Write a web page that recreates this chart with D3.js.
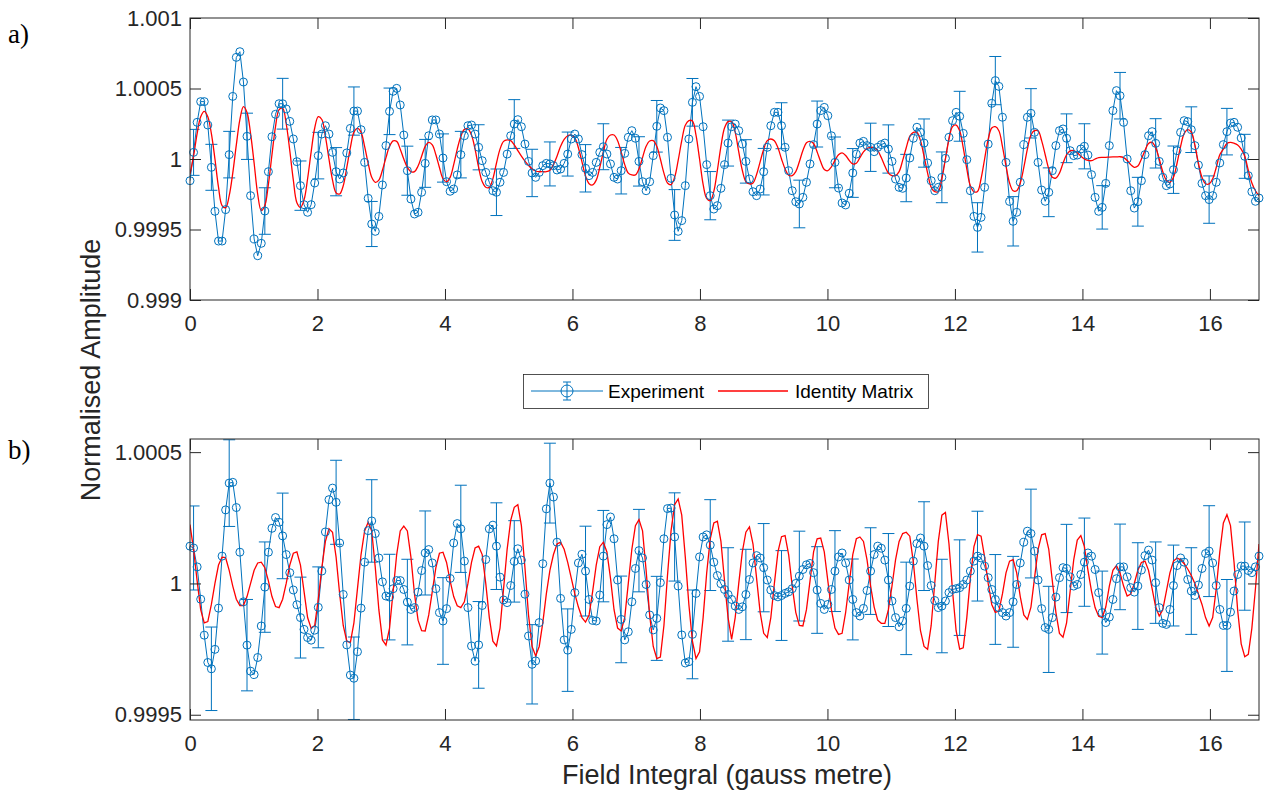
<!DOCTYPE html>
<meta charset="utf-8">

<head>
  <script src="https://d3js.org/d3.v7.min.js"></script>
  <style>
    body { margin: 0; background: #fff; }
  </style>
  <script>
    // all amplitude arrays are deviations from 1, in parts per million
    const xStep = 0.0559;
    const xMax = 16.77;

    const xTicks = [0, 2, 4, 6, 8, 10, 12, 14, 16];
    const yTicksA = [0.999, 0.9995, 1, 1.0005, 1.001];
    const yLabelsA = ["0.999", "0.9995", "1", "1.0005", "1.001"];
    const yTicksB = [0.9995, 1, 1.0005];
    const yLabelsB = ["0.9995", "1", "1.0005"];

    const seriesNames = ["Experiment", "Identity Matrix"];

    // panel a) experiment
    const expA = [
      -154, 47, 260, 407, 407, 241, -59, -371, -582, -582,
      -359, 31, 444, 721, 761, 546, 161, -260, -567, -686,
      -598, -369, -90, 158, 317, 392, 392, 355, 267, 142,
      -19, -189, -324, -378, -324, -170, 24, 177, 236, 177,
      47, -90, -142, -99, 43, 217, 340, 340, 208, -24,
      -279, -461, -513, -407, -184, 95, 338, 480, 501, 383,
      170, -83, -284, -390, -378, -236, -31, 165, 277, 277,
      177, 7, -161, -229, -213, -113, 31, 165, 236, 241,
      177, 83, -12, -95, -165, -225, -236, -165, -95, 35,
      165, 248, 279, 229, 106, -17, -99, -130, -95, -47,
      -31, -35, -47, -78, -71, -31, 35, 142, 177, 142,
      31, -66, -118, -95, -24, 47, 87, 35, -35, -130,
      -142, -83, 40, 154, 201, 147, -17, -161, -225, -161,
      24, 232, 362, 343, 154, -137, -397, -513, -437, -189,
      142, 402, 513, 444, 229, -40, -260, -355, -331, -208,
      -40, 113, 229, 248, 201, 106, -17, -142, -232, -260,
      -213, -90, 83, 236, 331, 331, 236, 83, -83, -225,
      -303, -319, -272, -165, -35, 102, 248, 343, 366, 307,
      165, -24, -206, -312, -326, -243, -99, 35, 113, 125,
      95, 83, 52, 83, 102, 113, 71, -17, -142, -201,
      -208, -135, 7, 147, 225, 189, 113, -28, -154, -225,
      -201, -130, 5, 154, 272, 331, 303, 182, -5, -225,
      -407, -485, -414, -201, 106, 395, 556, 515, 296, -24,
      -301, -442, -378, -165, 102, 296, 324, 189, -24, -220,
      -300, -236, -83, 95, 201, 213, 147, 59, 24, 28,
      71, 90, 28, -111, -272, -371, -343, -173, 95, 343,
      485, 449, 260, 0, -225, -348, -303, -154, 31, 165,
      194, 111, -17, -130, -189, -177, -76, 59, 189, 272,
      265, 208, 95, -43, -173, -260, -288, -260, -165, -28,
      102, 194, 255, 260, 225, 149, 19, -118, -232, -300,
      -277
    ];

    // panel a) error bar half-heights, on every fifth point from the second
    const errA = [
      163, 163, 165, 164, 165, 180, 175, 165, 171, 171,
      160, 165, 174, 170, 171, 165, 160, 165, 173, 168,
      156, 156, 168, 163, 165, 175, 183, 180, 169, 171,
      163, 154, 165, 163, 169, 163, 180, 173, 171, 171,
      168, 171, 180, 177, 175, 171, 175, 175, 173, 173,
      160, 154, 165, 173, 175, 168, 162, 168, 165, 156
    ];

    // panel a) identity matrix
    const redA = [
      -106, 20, 180, 300, 338, 300, 180, 0, -200, -330,
      -345, -260, -100, 100, 280, 371, 330, 180, -30, -250,
      -366, -330, -180, 30, 230, 350, 360, 250, 60, -150,
      -310, -343, -290, -140, 50, 220, 300, 280, 160, 0,
      -150, -240, -248, -190, -60, 80, 190, 217, 190, 90,
      -30, -130, -165, -150, -80, 10, 90, 128, 125, 70,
      0, -60, -90, -90, -50, 20, 90, 118, 100, 30,
      -60, -140, -161, -130, -40, 70, 160, 210, 213, 170,
      70, -60, -160, -200, -201, -140, -30, 70, 125, 135,
      130, 100, 60, 20, -15, -45, -70, -85, -90, -90,
      -90, -80, -40, 20, 90, 140, 165, 170, 150, 80,
      -20, -120, -175, -184, -150, -60, 50, 140, 170, 170,
      130, 50, -40, -100, -113, -113, -70, 10, 90, 128,
      130, 90, 0, -100, -170, -182, -130, -10, 130, 240,
      272, 270, 170, 0, -180, -280, -296, -230, -80, 90,
      220, 265, 265, 190, 50, -80, -160, -177, -170, -110,
      -20, 70, 130, 142, 130, 80, 0, -70, -115, -118,
      -90, -20, 60, 115, 125, 110, 50, -20, -75, -83,
      -55, -10, 30, 43, 25, -10, -35, -30, 10, 50,
      75, 83, 80, 60, 10, -50, -100, -118, -118, -90,
      -10, 80, 160, 189, 189, 130, 20, -100, -200, -232,
      -230, -140, 0, 140, 230, 241, 200, 80, -70, -190,
      -232, -230, -140, 0, 140, 220, 229, 200, 90, -50,
      -170, -225, -225, -170, -60, 70, 170, 201, 200, 130,
      30, -70, -130, -135, -100, -30, 30, 58, 59, 45,
      20, 0, -10, -12, 0, 10, 12, 12, 14, 15,
      15, 16, 10, -10, -40, -59, -50, 0, 60, 110,
      118, 80, 0, -90, -150, -165, -130, -30, 90, 180,
      208, 190, 100, -30, -130, -175, -177, -140, -60, 30,
      70, 110, 118, 112, 100, 70, 20, -80, -170, -225,
      -260
    ];

    // panel b) experiment
    const expB = [
      142, 135, 63, -60, -197, -301, -325, -251, -94, 104,
      280, 382, 385, 289, 119, -70, -235, -334, -347, -282,
      -162, -14, 119, 210, 251, 233, 181, 110, 41, -25,
      -81, -130, -175, -206, -216, -178, -91, 47, 196, 319,
      363, 309, 154, -42, -234, -349, -361, -260, -94, 81,
      201, 238, 190, 97, 6, -48, -52, -20, 11, 11,
      -23, -71, -99, -92, -33, 49, 116, 129, 78, -20,
      -111, -143, -96, 19, 154, 228, 208, 85, -92, -238,
      -296, -234, -84, 91, 208, 222, 142, 24, -63, -73,
      -8, 84, 132, 89, -41, -200, -308, -295, -149, 75,
      284, 382, 329, 157, -57, -215, -254, -175, -35, 78,
      111, 47, -61, -141, -143, -44, 104, 224, 253, 170,
      13, -137, -215, -184, -70, 57, 125, 97, -4, -120,
      -177, -133, 3, 170, 285, 287, 177, -10, -196, -303,
      -298, -194, -38, 101, 177, 185, 146, 81, 30, -1,
      -23, -42, -61, -86, -99, -89, -42, 15, 78, 106,
      97, 60, 13, -25, -46, -51, -46, -38, -32, -20,
      0, 28, 53, 71, 76, 41, -25, -76, -99, -80,
      -23, 47, 101, 116, 78, 13, -61, -111, -124, -95,
      -27, 47, 110, 142, 134, 89, 13, -67, -130, -165,
      -143, -95, -10, 85, 152, 173, 142, 68, -8, -65,
      -92, -86, -67, -35, -23, -20, -16, -4, 13, 47,
      85, 104, 97, 66, 22, -23, -61, -92, -111, -124,
      -111, -70, -4, 78, 157, 199, 190, 123, 13, -96,
      -168, -175, -130, -52, 22, 60, 57, 25, -10, -4,
      34, 81, 116, 104, 53, -35, -111, -149, -128, -61,
      18, 63, 63, 25, -16, -33, -10, 51, 106, 127,
      89, 3, -92, -152, -156, -99, -8, 68, 97, 81,
      15, -29, -46, -6, 57, 114, 123, 78, -8, -99,
      -160, -160, -109, -29, 34, 66, 66, 49, 41, 63,
      104
    ];

    // panel b) error bar half-heights, on every fifth point from the second
    const errB = [
      160, 159, 165, 174, 172, 163, 154, 154, 160, 157,
      157, 163, 163, 160, 165, 166, 165, 165, 155, 151,
      152, 157, 171, 174, 165, 157, 160, 168, 169, 173,
      178, 172, 168, 171, 171, 165, 154, 154, 165, 177,
      176, 169, 178, 182, 171, 171, 173, 169, 164, 168,
      168, 158, 163, 165, 155, 154, 165, 173, 175, 168
    ];

    // panel b) identity matrix
    const redB = [
      224, 130, 10, -100, -150, -145, -80, 0, 70, 100,
      98, 50, -10, -60, -84, -84, -50, 0, 50, 78,
      81, 60, 10, -50, -88, -92, -60, 0, 70, 115,
      120, 70, -30, -130, -171, -160, -60, 60, 160, 208,
      195, 100, -40, -160, -220, -225, -150, -20, 110, 200,
      233, 200, 60, -100, -215, -235, -170, -30, 110, 200,
      218, 200, 100, -40, -140, -180, -181, -120, -30, 60,
      115, 119, 80, 10, -50, -85, -92, -70, 0, 80,
      135, 142, 110, 0, -130, -220, -238, -170, -20, 130,
      240, 290, 300, 220, 60, -120, -240, -276, -240, -150,
      -40, 50, 110, 150, 157, 130, 80, 20, -40, -90,
      -130, -147, -120, -30, 70, 140, 157, 120, 20, -100,
      -170, -181, -130, 0, 130, 220, 243, 200, 50, -120,
      -240, -286, -280, -160, 30, 200, 300, 322, 260, 100,
      -80, -220, -286, -260, -130, 40, 170, 230, 237, 160,
      10, -130, -213, -130, 0, 120, 195, 215, 150, 20,
      -110, -190, -206, -130, 0, 120, 178, 182, 110, -10,
      -110, -160, -162, -100, 10, 120, 170, 173, 120, 10,
      -100, -170, -194, -190, -110, 0, 110, 170, 177, 160,
      90, -10, -90, -140, -152, -152, -100, -10, 90, 160,
      190, 195, 180, 80, -60, -180, -240, -251, -160, 0,
      160, 260, 270, 150, -30, -180, -250, -245, -130, 20,
      140, 186, 180, 100, 0, -80, -110, -105, -40, 40,
      85, 91, 40, -50, -120, -137, -90, 20, 130, 185,
      190, 130, 10, -110, -190, -205, -150, -30, 90, 165,
      182, 140, 50, -30, -92, -125, -130, -90, -10, 50,
      68, 40, -10, -48, -40, 0, 50, 80, 85, 50,
      -20, -90, -124, -100, -30, 40, 85, 97, 90, 75,
      55, 30, 0, -40, -80, -130, -162, -130, -20, 120,
      230, 262, 220, 80, -100, -230, -279, -270, -170, -20,
      150
    ];

    window.addEventListener("DOMContentLoaded", () => {
      let svg = d3.select("#svg");
      let blue = "#0072BD";
      let red = "#FF0000";
      let axisColor = "#262626";
      let sans = "'Liberation Sans', Arial, Helvetica, sans-serif";

      svg.append("rect").attr("width", 1264).attr("height", 794).attr("fill", "#fff");

      let x = d3.scaleLinear().domain([0, xMax]).range([190, 1259]);

      let panels = [
        {id: "a", exp: expA, red: redA, err: errA, domain: [0.999, 1.001], top: 18, bottom: 300,
         ticks: yTicksA, labels: yLabelsA, curve: d3.curveCatmullRom, tagY: 43},
        {id: "b", exp: expB, red: redB, err: errB, domain: [0.99948, 1.00055], top: 439, bottom: 720,
         ticks: yTicksB, labels: yLabelsB, curve: d3.curveLinear, tagY: 459}
      ];

      panels.forEach(drawPanel);

      // shared axis labels
      svg.append("text")
        .attr("transform", "translate(100,370) rotate(-90)")
        .attr("text-anchor", "middle")
        .attr("font-family", sans).attr("font-size", 27).attr("fill", axisColor)
        .text("Normalised Amplitude");

      svg.append("text")
        .attr("x", 727).attr("y", 784)
        .attr("text-anchor", "middle")
        .attr("font-family", sans).attr("font-size", 27).attr("fill", axisColor)
        .text("Field Integral (gauss metre)");

      // legend
      let lg = svg.append("g");
      lg.append("rect").attr("x", 523.5).attr("y", 374.5).attr("width", 405).attr("height", 34)
        .attr("fill", "#fff").attr("stroke", axisColor).attr("stroke-width", 0.8);
      lg.append("line").attr("x1", 531).attr("x2", 603).attr("y1", 391).attr("y2", 391)
        .attr("stroke", blue).attr("stroke-width", 1);
      lg.append("line").attr("x1", 567).attr("x2", 567).attr("y1", 382).attr("y2", 400)
        .attr("stroke", blue).attr("stroke-width", 1);
      [382, 400].forEach(cy => {
        lg.append("line").attr("x1", 563).attr("x2", 571).attr("y1", cy).attr("y2", cy)
          .attr("stroke", blue).attr("stroke-width", 1);
      });
      lg.append("circle").attr("cx", 567).attr("cy", 391).attr("r", 6)
        .attr("fill", "none").attr("stroke", blue).attr("stroke-width", 1);
      lg.append("text").attr("x", 608).attr("y", 398)
        .attr("font-family", sans).attr("font-size", 19).attr("fill", "#000")
        .text(seriesNames[0]);
      lg.append("line").attr("x1", 718).attr("x2", 788).attr("y1", 391).attr("y2", 391)
        .attr("stroke", red).attr("stroke-width", 1.3);
      lg.append("text").attr("x", 795).attr("y", 398)
        .attr("font-family", sans).attr("font-size", 19).attr("fill", "#000")
        .text(seriesNames[1]);

      function drawPanel(p) {
        let y = d3.scaleLinear().domain(p.domain).range([p.bottom, p.top]);
        let val = d => 1 + d * 1e-6;
        let g = svg.append("g");

        g.append("clipPath").attr("id", "clip-" + p.id)
          .append("rect")
          .attr("x", x.range()[0]).attr("y", p.top)
          .attr("width", x.range()[1] - x.range()[0]).attr("height", p.bottom - p.top);

        let plot = g.append("g").attr("clip-path", `url(#clip-${p.id})`);

        let pts = p.exp.map((d, i) => ({x: i * xStep, y: val(d)}));
        let line = d3.line().x(d => x(d.x)).y(d => y(d.y));

        plot.append("path").datum(pts)
          .attr("fill", "none").attr("stroke", blue).attr("stroke-width", 1)
          .attr("d", line);

        let bars = p.err.map((e, k) => {
          let i = 1 + 5 * k;
          return {x: i * xStep, y: val(p.exp[i]), e: e * 1e-6};
        });
        let bar = plot.selectAll(".bar").data(bars).enter().append("g")
          .attr("stroke", blue).attr("stroke-width", 1);
        bar.append("line")
          .attr("x1", d => x(d.x)).attr("x2", d => x(d.x))
          .attr("y1", d => y(d.y + d.e)).attr("y2", d => y(d.y - d.e));
        bar.append("line")
          .attr("x1", d => x(d.x) - 6).attr("x2", d => x(d.x) + 6)
          .attr("y1", d => y(d.y + d.e)).attr("y2", d => y(d.y + d.e));
        bar.append("line")
          .attr("x1", d => x(d.x) - 6).attr("x2", d => x(d.x) + 6)
          .attr("y1", d => y(d.y - d.e)).attr("y2", d => y(d.y - d.e));

        g.selectAll(".pt").data(pts).enter().append("circle")
          .attr("cx", d => x(d.x)).attr("cy", d => y(d.y)).attr("r", 4)
          .attr("fill", "none").attr("stroke", blue).attr("stroke-width", 1);

        let redPts = p.red.map((d, i) => ({x: i * xStep, y: val(d)}));
        plot.append("path").datum(redPts)
          .attr("fill", "none").attr("stroke", red).attr("stroke-width", 1.3)
          .attr("d", d3.line().x(d => x(d.x)).y(d => y(d.y)).curve(p.curve));

        // axes, ticks pointing inward on all four sides
        let axes = [
          g.append("g").attr("transform", `translate(0,${p.bottom})`)
            .call(d3.axisBottom(x).tickValues(xTicks).tickSize(-11).tickSizeOuter(0).tickPadding(15)),
          g.append("g").attr("transform", `translate(0,${p.top})`)
            .call(d3.axisTop(x).tickValues(xTicks).tickSize(-11).tickSizeOuter(0).tickFormat("")),
          g.append("g").attr("transform", `translate(${x.range()[0]},0)`)
            .call(d3.axisLeft(y).tickValues(p.ticks).tickSize(-11).tickSizeOuter(0).tickPadding(8)
              .tickFormat((d, i) => p.labels[i])),
          g.append("g").attr("transform", `translate(${x.range()[1]},0)`)
            .call(d3.axisRight(y).tickValues(p.ticks).tickSize(-11).tickSizeOuter(0).tickFormat(""))
        ];
        axes.forEach(a => {
          a.select(".domain").remove();
          a.attr("font-family", sans).attr("font-size", 22);
          a.selectAll(".tick line").attr("stroke", axisColor).attr("stroke-width", 1);
          a.selectAll(".tick text").attr("fill", axisColor);
        });

        g.append("rect")
          .attr("x", x.range()[0]).attr("y", p.top)
          .attr("width", x.range()[1] - x.range()[0]).attr("height", p.bottom - p.top)
          .attr("fill", "none").attr("stroke", axisColor).attr("stroke-width", 1);

        svg.append("text")
          .attr("x", 8).attr("y", p.tagY)
          .attr("font-family", "'Liberation Serif', 'Times New Roman', serif")
          .attr("font-size", 27).attr("fill", "#000")
          .text(p.id + ")");
      }
    });
  </script>
</head>

<body>
  <svg id="svg" width="1264" height="794"></svg>
</body>
